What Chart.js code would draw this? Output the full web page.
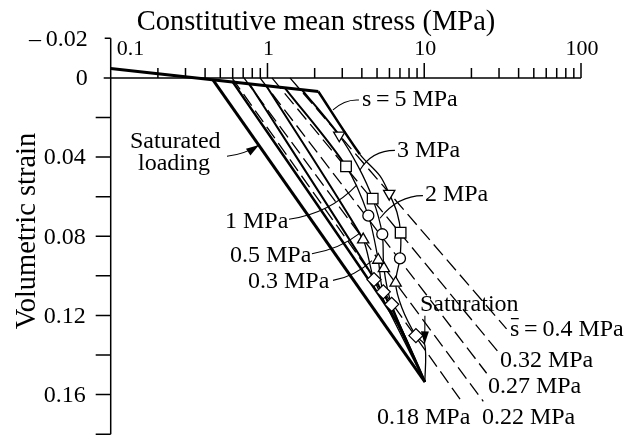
<!DOCTYPE html>
<html>
<head>
<meta charset="utf-8">
<script src="https://cdn.jsdelivr.net/npm/chart.js@4.4.0/dist/chart.umd.min.js"></script>
<style>
  html, body { margin: 0; padding: 0; background: #fff; }
  #wrap { width: 626px; height: 443px; }
</style>
</head>
<body>
<div id="wrap"><canvas id="myChart"></canvas></div>
<script>
const ctx = document.getElementById('myChart');

// x: constitutive mean stress (MPa), y: volumetric strain
const elasticX = [0.1, 2.11];
const elasticY = [-0.0047, 0.0069];
const saturatedX = [0.449, 10.1];
const saturatedY = [0.001, 0.1536];

// constant suction paths, ending at the saturated state
const path5X = [2.11, 3.89, 5.22, 5.98, 6.70, 7.07, 7.00, 6.57, 7.21, 8.85, 10.1, 10.1];
const path5Y = [0.0069, 0.0386, 0.0495, 0.0585, 0.0679, 0.0782, 0.0912, 0.1036, 0.1162, 0.1302, 0.1351, 0.1536];
const path3X = [1.66, 2.87, 3.78, 4.69, 5.40, 5.53, 6.20, 10.1];
const path3Y = [0.0060, 0.0290, 0.0446, 0.0610, 0.0790, 0.0962, 0.1144, 0.1536];
const path2X = [1.29, 3.17, 4.40, 5.09, 5.48, 10.1];
const path2Y = [0.0050, 0.0447, 0.0696, 0.0920, 0.1081, 0.1536];
const path1X = [0.978, 4.08, 4.78, 10.1];
const path1Y = [0.0037, 0.0817, 0.1019, 0.1536];
const path05X = [0.762, 5.87, 10.1];
const path05Y = [0.0027, 0.1127, 0.1536];
const path03X = [0.594, 6.80, 10.1];
const path03Y = [0.0015, 0.1242, 0.1536];

// markers
const downTriX = [5.98, 2.87];
const downTriY = [0.0585, 0.0290];
const squareX = [7.07, 4.69, 3.17];
const squareY = [0.0782, 0.0610, 0.0447];
const circleX = [7.00, 5.40, 4.40];
const circleY = [0.0912, 0.0790, 0.0696];
const upTriX = [6.57, 5.53, 5.09, 4.08];
const upTriY = [0.1036, 0.0962, 0.0920, 0.0817];
const diamondX = [8.85, 6.20, 5.48, 4.78];
const diamondY = [0.1302, 0.1144, 0.1081, 0.1019];

// constant s-bar lines (dashed)
const sBarStartX = [0.594, 0.708, 0.896, 1.068, 1.392];
const sBarEndX = [17.3, 23.8, 25.0, 29.7, 33.5];
const sBarEndY = [0.1634, 0.1634, 0.1492, 0.1385, 0.1268];

// axis ticks
const xTickValues = [0.1, 1, 10, 100];
const xTickLabels = ['0.1', '1', '10', '100'];
const yTickValues = [-0.02, 0, 0.04, 0.08, 0.12, 0.16];
const yTickLabels = ['\u2013\u20090.02', '0', '0.04', '0.08', '0.12', '0.16'];

// text notes: [text, x, y] at left / baseline
const notes = [
    ['Saturated', 0.1327, 0.0356],
    ['loading', 0.1493, 0.0463],
    ['s\u2009=\u20095 MPa', 4.006, 0.0142],
    ['3 MPa', 6.697, 0.0401],
    ['2 MPa', 10.1, 0.0620],
    ['1 MPa', 0.536, 0.0759],
    ['0.5 MPa', 0.5765, 0.0928],
    ['0.3 MPa', 0.751, 0.1063],
    ['Saturation', 9.39, 0.1177],
    ['s\u2009=\u20090.4 MPa', 35.2, 0.1302],
    ['0.32 MPa', 30.39, 0.1459],
    ['0.27 MPa', 25.48, 0.1590],
    ['0.22 MPa', 23.33, 0.1750],
    ['0.18 MPa', 4.993, 0.1750]
];

// leader lines: start, control, end, arrow?
const leaders = [
    [[3.833, 0.0112], [3.121, 0.0107], [2.617, 0.0162], false],
    [[6.503, 0.0366], [4.640, 0.0366], [3.890, 0.0465], false],
    [[9.81, 0.0595], [6.796, 0.0595], [5.219, 0.0709], false],
    [[1.371, 0.0714], [2.503, 0.0684], [3.722, 0.0540], false],
    [[1.922, 0.0888], [2.900, 0.0864], [3.890, 0.0784], false],
    [[2.617, 0.1023], [3.614, 0.1003], [4.640, 0.0923], false],
    [[0.5516, 0.0396], [0.7186, 0.0386], [0.883, 0.03385], true],
    [[10.1, 0.1202], [10.1, 0.1278], [10.05, 0.1346], true]
];

const FONT = '"Liberation Serif", "Times New Roman", serif';

function toPoints(xs, ys) {
    return xs.map((v, i) => ({ x: v, y: ys[i] }));
}

function lineSet(xs, ys, width, thinAfter, tension) {
    return {
        data: toPoints(xs, ys),
        showLine: true,
        borderColor: '#000',
        borderWidth: width,
        pointRadius: 0,
        tension: tension || 0,
        order: 1,
        segment: thinAfter === undefined ? undefined : {
            borderWidth: (c) => c.p0DataIndex < thinAfter ? width : 1.3
        }
    };
}

function markerSet(xs, ys, style, radius, rotation) {
    return {
        data: toPoints(xs, ys),
        showLine: false,
        pointStyle: style,
        pointRadius: radius,
        pointRotation: rotation || 0,
        pointBackgroundColor: '#fff',
        pointBorderColor: '#000',
        pointBorderWidth: 1.3,
        order: 0
    };
}

const datasets = [
    markerSet(downTriX, downTriY, 'triangle', 6.5, 180),
    markerSet(squareX, squareY, 'rect', 7.5),
    markerSet(circleX, circleY, 'circle', 5.5),
    markerSet(upTriX, upTriY, 'triangle', 6.5),
    markerSet(diamondX, diamondY, 'rectRot', 7),
    lineSet(elasticX, elasticY, 3),
    lineSet(saturatedX, saturatedY, 3),
    lineSet(path5X, path5Y, 2.5, 1, 0.3),
    lineSet(path3X, path3Y, 2, 1, 0.3),
    lineSet(path2X, path2Y, 2, 1, 0.3),
    lineSet(path1X, path1Y, 2, 1, 0.2),
    lineSet(path05X, path05Y, 2, 2, 0.15),
    lineSet(path03X, path03Y, 2.5, 2, 0.15)
];

sBarStartX.forEach((sx, i) => {
    datasets.push({
        data: [{ x: sx, y: 0 }, { x: sBarEndX[i], y: sBarEndY[i] }],
        showLine: true,
        borderColor: '#000',
        borderWidth: 1.3,
        borderDash: [14, 6],
        pointRadius: 0,
        order: 1
    });
});

function arrowHead(c, fx, fy, tx, ty, len, half) {
    const a = Math.atan2(ty - fy, tx - fx);
    c.beginPath();
    c.moveTo(tx, ty);
    c.lineTo(tx - len * Math.cos(a) + half * Math.sin(a), ty - len * Math.sin(a) - half * Math.cos(a));
    c.lineTo(tx - len * Math.cos(a) - half * Math.sin(a), ty - len * Math.sin(a) + half * Math.cos(a));
    c.closePath();
    c.fill();
}

const paperAxes = {
    id: 'paperAxes',
    afterDraw(chart) {
        const c = chart.ctx;
        const xs = chart.scales.x;
        const ys = chart.scales.y;
        const left = xs.getPixelForValue(0.1);
        const right = xs.getPixelForValue(100);
        const y0 = ys.getPixelForValue(0);
        c.save();
        c.strokeStyle = '#000';
        c.fillStyle = '#000';
        c.lineWidth = 1.5;

        // axes lines
        c.beginPath();
        c.moveTo(left, ys.getPixelForValue(-0.02));
        c.lineTo(left, ys.getPixelForValue(0.18));
        c.moveTo(left - 7, y0);
        c.lineTo(right, y0);
        // y ticks every 0.02
        for (let i = 0; i <= 10; i++) {
            const v = -0.02 + i * 0.02;
            const py = ys.getPixelForValue(v);
            const len = i <= 1 ? 6 : 15;
            c.moveTo(left - len, py);
            c.lineTo(left, py);
        }
        // x ticks (log decades), pointing up
        [0.1, 1, 10].forEach((d) => {
            for (let m = 1; m <= 9; m++) {
                if (d === 0.1 && m === 1) continue;
                const px = xs.getPixelForValue(d * m);
                c.moveTo(px, y0);
                c.lineTo(px, y0 - (m === 1 ? 15 : 10));
            }
        });
        const p100 = xs.getPixelForValue(100);
        c.moveTo(p100, y0);
        c.lineTo(p100, y0 - 15);
        c.stroke();

        // tick labels
        c.font = '22px ' + FONT;
        c.textBaseline = 'alphabetic';
        xTickValues.forEach((v, i) => {
            const px = xs.getPixelForValue(v);
            if (i === 0) {
                c.textAlign = 'left';
                c.fillText(xTickLabels[i], px + 6, 55);
            } else {
                c.textAlign = 'center';
                c.fillText(xTickLabels[i], px + 1, 55);
            }
        });
        c.font = '24px ' + FONT;
        c.textAlign = 'right';
        c.textBaseline = 'middle';
        yTickValues.forEach((v, i) => {
            const py = ys.getPixelForValue(v);
            c.fillText(yTickLabels[i], v <= 0 ? left - 23 : left - 25, py + 1);
        });

        // axis titles
        c.font = '28.5px ' + FONT;
        c.textAlign = 'center';
        c.textBaseline = 'alphabetic';
        c.fillText('Constitutive mean stress (MPa)', 316, 30);
        c.save();
        c.translate(35, 231);
        c.rotate(-Math.PI / 2);
        c.fillText('Volumetric strain', 0, 0);
        c.restore();

        // notes
        c.font = '24px ' + FONT;
        c.textAlign = 'left';
        notes.forEach(([t, x, y]) => {
            const px = xs.getPixelForValue(x);
            const py = ys.getPixelForValue(y);
            c.fillText(t, px, py);
            if (t.indexOf('0.4') > 0) {
                const w = c.measureText('s').width;
                c.lineWidth = 1.3;
                c.beginPath();
                c.moveTo(px + 1, py - 17);
                c.lineTo(px + w - 0.5, py - 17);
                c.stroke();
            }
        });

        // leader lines
        c.lineWidth = 1.1;
        leaders.forEach(([s, k, e, arrow]) => {
            const sx = xs.getPixelForValue(s[0]), sy = ys.getPixelForValue(s[1]);
            const kx = xs.getPixelForValue(k[0]), ky = ys.getPixelForValue(k[1]);
            const ex = xs.getPixelForValue(e[0]), ey = ys.getPixelForValue(e[1]);
            c.beginPath();
            c.moveTo(sx, sy);
            c.quadraticCurveTo(kx, ky, ex, ey);
            c.stroke();
            if (arrow) arrowHead(c, kx, ky, ex, ey, 13, 4);
        });
        c.restore();
    }
};

const myChart = new Chart(ctx, {
    type: 'scatter',
    data: { datasets: datasets },
    options: {
        responsive: true,
        maintainAspectRatio: false,
        animation: false,
        devicePixelRatio: 1,
        layout: { padding: { left: 110.7, right: 45, top: 38.3, bottom: 2.8 } },
        plugins: { legend: { display: false }, tooltip: { enabled: false } },
        scales: {
            x: { type: 'logarithmic', min: 0.1, max: 100, display: false },
            y: { type: 'linear', min: -0.02, max: 0.18, reverse: true, display: false }
        }
    },
    plugins: [paperAxes]
});
</script>
</body>
</html>
